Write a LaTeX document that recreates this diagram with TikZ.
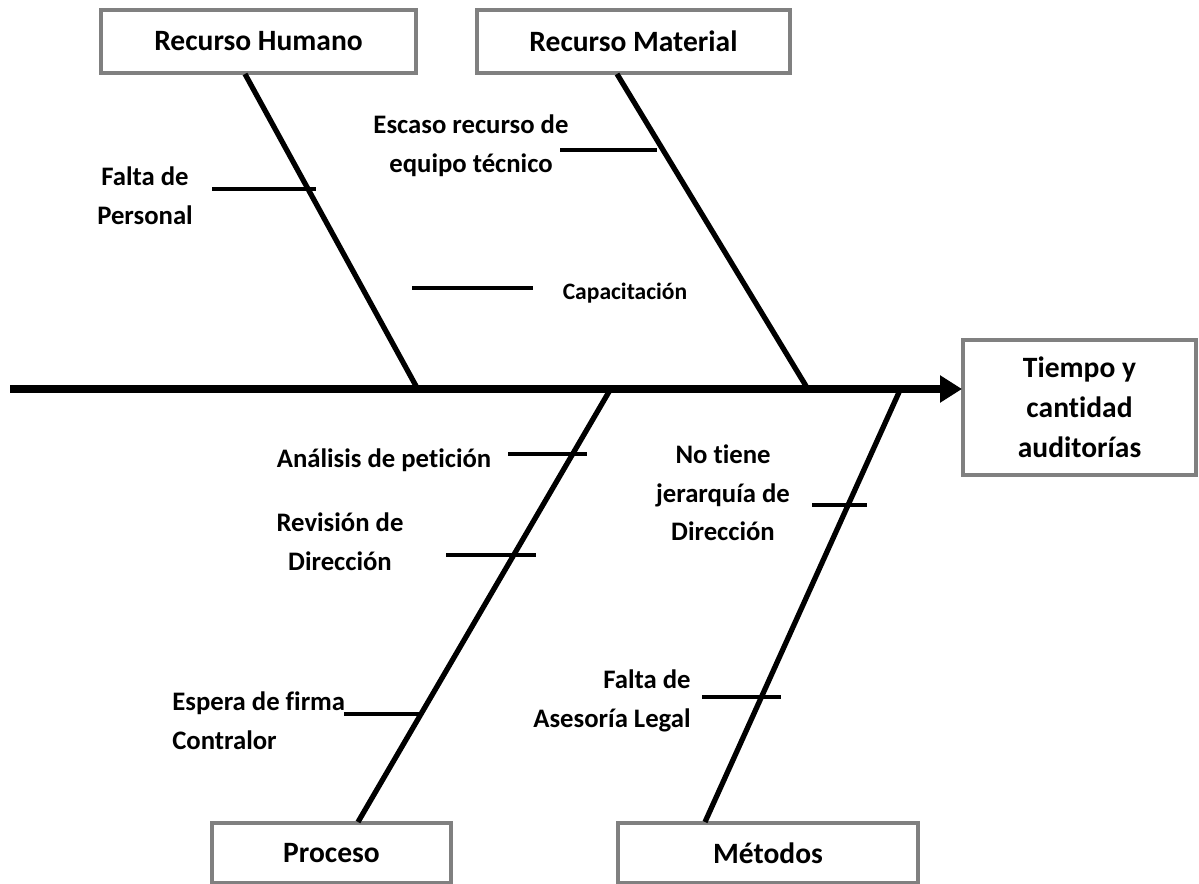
\documentclass[tikz,border=0pt]{standalone}
\usepackage{fontspec}
\setmainfont{Carlito}[Ligatures=NoCommon]
\usetikzlibrary{arrows.meta}
\definecolor{boxgray}{rgb}{0.5,0.5,0.5}

\begin{document}
\begin{tikzpicture}[x=0.02cm,y=-0.02cm,
  box/.style={draw=boxgray, line width=2pt, minimum height=1.26cm, align=center,
    font=\bfseries\fontsize{16.8}{22.7}\selectfont},
  lbl/.style={inner sep=0pt, font=\bfseries\fontsize{15.2}{22}\selectfont},
  bone/.style={line width=3pt},
  twig/.style={line width=1.8pt}]
  \useasboundingbox (0,0) rectangle (1199,884);

  % boxes
  \node[box, minimum width=6.3cm] (hum) at (258.5,41.5) {Recurso Humano};
  \node[box, minimum width=6.26cm] (mat) at (633.5,41.5) {Recurso Material};
  \node[box, minimum width=4.66cm, minimum height=2.7cm] (eff) at (1079.5,407.5) {Tiempo y\\cantidad\\auditorías};
  \node[box, minimum width=4.78cm, minimum height=1.2cm] (pro) at (331.5,853) {Proceso};
  \node[box, minimum width=6cm, minimum height=1.2cm] (met) at (768,853) {Métodos};

  % spine
  \coordinate (s0) at (10,389);
  \coordinate (s1) at (962,389);
  \draw[line width=4.5pt, -{Triangle[length=0.44cm,width=0.52cm]}] (s0) -- (s1);

  % bones
  \coordinate (h0) at (245,74);   \coordinate (h1) at (416,386);
  \coordinate (m0) at (617,74);   \coordinate (m1) at (806,386);
  \coordinate (p0) at (610,390);  \coordinate (p1) at (358,822);
  \coordinate (t0) at (900,390);  \coordinate (t1) at (705,822);
  \draw[bone] (h0) -- (h1);
  \draw[bone] (m0) -- (m1);
  \draw[bone] (p0) -- (p1);
  \draw[bone] (t0) -- (t1);

  % causes
  \coordinate (c1a) at (212,189); \coordinate (c1b) at (316,189);
  \coordinate (c2a) at (560,150); \coordinate (c2b) at (657,150);
  \coordinate (c3a) at (412,288); \coordinate (c3b) at (533,288);
  \coordinate (c4a) at (508,454); \coordinate (c4b) at (587,454);
  \coordinate (c5a) at (446,555); \coordinate (c5b) at (536,555);
  \coordinate (c6a) at (812,505); \coordinate (c6b) at (867,505);
  \coordinate (c7a) at (344,714); \coordinate (c7b) at (422,714);
  \coordinate (c8a) at (702,697); \coordinate (c8b) at (781,697);
  \draw[twig] (c1a) -- (c1b);
  \draw[twig, line width=2.8pt] (c2a) -- (c2b);
  \draw[twig] (c3a) -- (c3b);
  \draw[twig, line width=2.8pt] (c4a) -- (c4b);
  \draw[twig] (c5a) -- (c5b);
  \draw[twig, line width=2.3pt] (c6a) -- (c6b);
  \draw[twig, line width=2.5pt] (c7a) -- (c7b);
  \draw[twig, line width=2.8pt] (c8a) -- (c8b);

  \node[lbl, align=center] (l1) at (145,196) {Falta de\\Personal};
  \node[lbl, align=center] (l2) at (471,146) {Escaso recurso de\\equipo técnico};
  \node[lbl, font=\bfseries\fontsize{13.4}{16}\selectfont] (l3) at (625,293) {Capacitación};
  \node[lbl] (l4) at (384,460) {Análisis de petición};
  \node[lbl, align=center] (l5) at (340,542) {Revisión de\\Dirección};
  \node[lbl, align=center] (l6) at (723,493) {No tiene\\jerarquía de\\Dirección};
  \node[lbl, align=left, anchor=west] (l7) at (172,721) {Espera de firma\\Contralor};
  \node[lbl, align=right, anchor=east] (l8) at (691,701) {Falta de\\Asesoría Legal};
\end{tikzpicture}
\end{document}
